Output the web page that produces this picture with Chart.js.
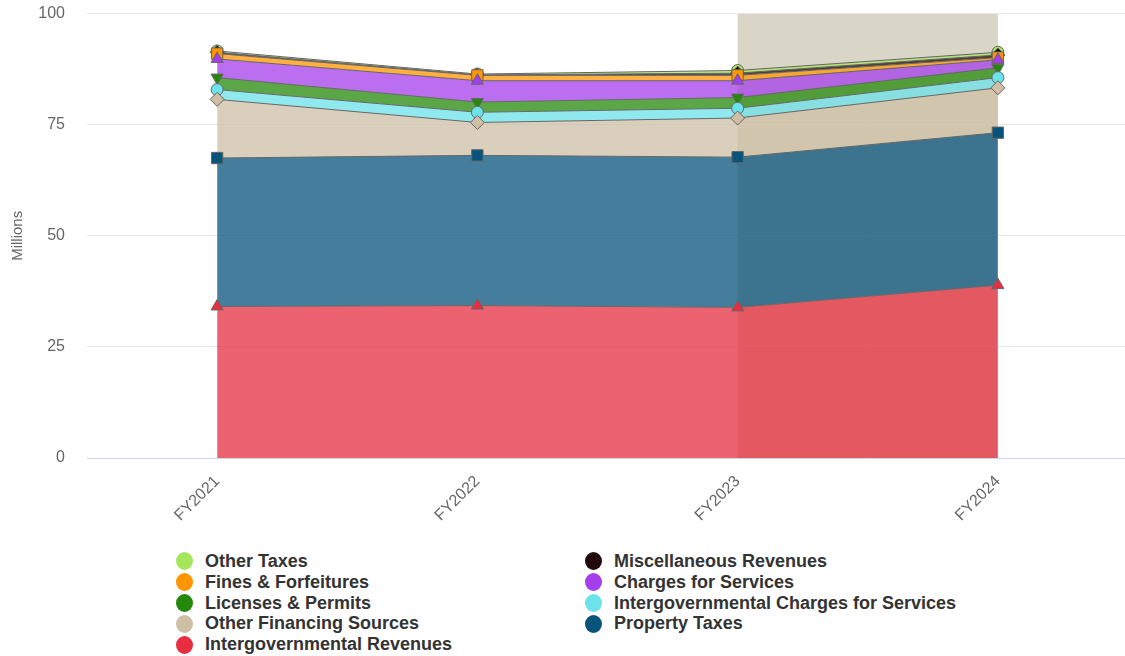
<!DOCTYPE html>
<html>
<head>
<meta charset="utf-8">
<script src="https://cdn.jsdelivr.net/npm/chart.js@4"></script>
<style>
  html, body { margin: 0; padding: 0; background: #fff; }
  body { width: 1125px; height: 656px; position: relative; overflow: hidden;
         font-family: "Liberation Sans", Arial, Helvetica, sans-serif; }
  #wrap { position: absolute; left: 0; top: 0; width: 1137px; height: 540px; }
  #legend { position: absolute; left: 176px; top: 551px; width: 900px;
            display: grid; grid-template-columns: 409px 420px; grid-auto-rows: 20.8px; }
  .item { display: flex; align-items: center; font-weight: bold; font-size: 18px; color: #333; white-space: nowrap; }
  .dot { width: 17px; height: 18px; border-radius: 50%; margin-right: 12px; flex: none; }
</style>
</head>
<body>
<div id="wrap"><canvas id="revChart"></canvas></div>
<div id="legend"></div>
<script>
// fiscal years and revenue by source, in millions
const categories = ['FY2021', 'FY2022', 'FY2023', 'FY2024'];
const intergovRevenues  = [34.1, 34.3, 33.9, 38.9];
const propertyTaxes     = [33.4, 33.8, 33.8, 34.3];
const otherFinancing    = [13.2, 7.4, 8.8, 10.1];
const intergovCharges   = [2.2, 2.3, 2.2, 2.3];
const licensesPermits   = [2.7, 2.3, 2.4, 2.2];
const chargesServices   = [4.2, 4.8, 3.8, 1.8];
const finesForfeitures  = [1.2, 1.2, 1.2, 0.5];
const miscRevenues      = [0.3, 0.1, 0.5, 0.6];
const otherTaxes        = [0.3, 0.2, 0.6, 0.6];
const yTicks = [0, 25, 50, 75, 100];

// bottom of the stack first
const series = [
  { label: 'Intergovernmental Revenues', data: intergovRevenues, color: [231, 46, 64], style: 'triangle', r: 7 },
  { label: 'Property Taxes', data: propertyTaxes, color: [7, 83, 124], style: 'rect', r: 8 },
  { label: 'Other Financing Sources', data: otherFinancing, color: [206, 191, 166], style: 'rectRot', r: 7 },
  { label: 'Intergovernmental Charges for Services', data: intergovCharges, color: [108, 226, 235], style: 'circle', r: 6 },
  { label: 'Licenses & Permits', data: licensesPermits, color: [36, 136, 10], style: 'triangle', r: 7, rot: 180 },
  { label: 'Charges for Services', data: chargesServices, color: [164, 62, 235], style: 'triangle', r: 7 },
  { label: 'Fines & Forfeitures', data: finesForfeitures, color: [255, 150, 0], style: 'rect', r: 8 },
  { label: 'Miscellaneous Revenues', data: miscRevenues, color: [35, 10, 10], style: 'rectRot', r: 7 },
  { label: 'Other Taxes', data: otherTaxes, color: [166, 230, 92], style: 'circle', r: 6 }
];

const rgb = (c, a) => a === undefined ? `rgb(${c.join(',')})` : `rgba(${c.join(',')},${a})`;

// shaded band behind FY2023 - FY2024
const bandPlugin = {
  id: 'band',
  beforeDraw(chart) {
    const { ctx, chartArea, scales } = chart;
    const x0 = scales.x.getPixelForValue(2);
    const x1 = scales.x.getPixelForValue(3);
    ctx.save();
    ctx.fillStyle = 'rgb(217,214,199)';
    ctx.fillRect(x0, chartArea.top, x1 - x0, chartArea.bottom - chartArea.top);
    ctx.restore();
  }
};

const tickFont = { size: 16, family: '"Liberation Sans", Arial' };

const ctx = document.getElementById('revChart').getContext('2d');
new Chart(ctx, {
  type: 'line',
  data: {
    labels: categories,
    datasets: series.map((s, i) => ({
      label: s.label,
      data: s.data,
      fill: i === 0 ? 'origin' : '-1',
      backgroundColor: rgb(s.color, 0.75),
      borderColor: '#666',
      borderWidth: 1,
      tension: 0,
      pointStyle: s.style,
      pointRadius: s.r,
      pointRotation: s.rot || 0,
      pointBackgroundColor: rgb(s.color),
      pointBorderColor: '#666',
      pointBorderWidth: 1
    }))
  },
  options: {
    responsive: true,
    maintainAspectRatio: false,
    animation: false,
    layout: { padding: { top: 13, right: 0, left: 0, bottom: 0 } },
    plugins: { legend: { display: false }, tooltip: { enabled: false } },
    scales: {
      x: {
        offset: true,
        grid: { display: false },
        border: { color: '#ccd6eb' },
        ticks: { color: '#666', font: tickFont, minRotation: 45, maxRotation: 45, padding: 6 },
        afterFit(scale) { scale.height = 82; }
      },
      y: {
        stacked: true,
        min: 0, max: 100,
        afterBuildTicks(scale) { scale.ticks = yTicks.map(v => ({ value: v })); },
        // invisible tick marks push the labels left without padding the top
        grid: { color: '#e6e6e6', tickColor: 'rgba(0,0,0,0)', tickLength: 18 },
        border: { display: false },
        ticks: { color: '#666', font: tickFont, padding: 4 },
        title: { display: true, text: 'Millions', color: '#666', font: { size: 15, family: '"Liberation Sans", Arial' }, padding: { top: 9, bottom: 0 } },
        afterFit(scale) { scale.width = 87; }
      }
    }
  },
  plugins: [bandPlugin]
});

// two-column legend, top of the stack first, filled row by row
const legend = document.getElementById('legend');
series.slice().reverse().forEach(s => {
  const el = document.createElement('div');
  el.className = 'item';
  el.innerHTML = `<span class="dot" style="background:${rgb(s.color)}"></span>${s.label}`;
  legend.appendChild(el);
});
</script>
</body>
</html>
